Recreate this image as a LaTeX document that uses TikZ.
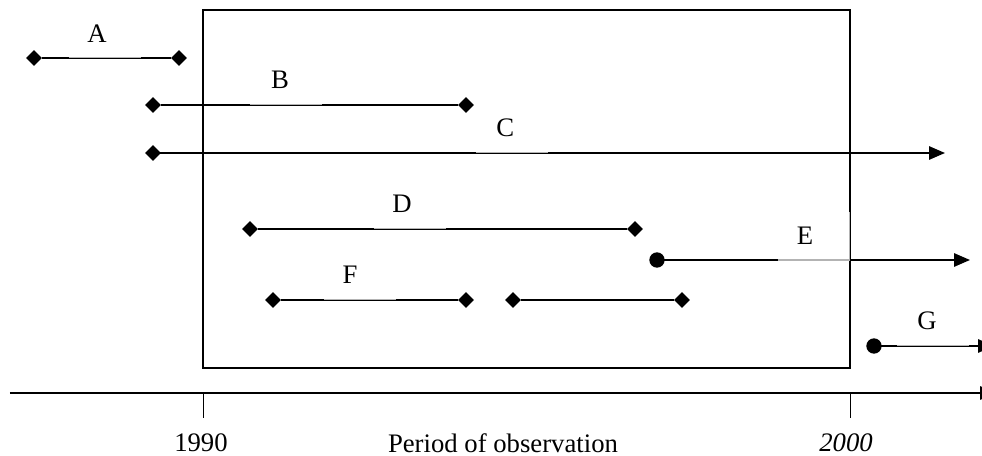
\documentclass[tikz,border=0pt]{standalone}
\usepackage{fontspec}
\setmainfont{Liberation Serif}
\usetikzlibrary{arrows.meta,shapes.geometric}

\tikzset{
  bar/.style={line width=0.85pt},
  tip/.style={-{Triangle[length=0.24cm,width=0.2cm]}},
  rhomb/.style={diamond,fill,inner sep=0pt,minimum size=0.24cm},
  blob/.style={circle,fill,inner sep=0pt,minimum size=0.23cm},
  tag/.style={fill=white,fill opacity=0.7,text opacity=1,inner sep=0pt,
    minimum width=1.09cm,minimum height=0.73cm,anchor=south}
}

\begin{document}
\begin{tikzpicture}[x=0.015cm,y=-0.015cm,
    every node/.style={font=\fontsize{11.4pt}{13.7pt}\selectfont}]
  \useasboundingbox (0,0) rectangle (982,456);
  % observation window
  \draw[bar] (203,10) rectangle (850,368);
  % spells
  \node[rhomb] (a1) at (34,58) {};
  \node[rhomb] (a2) at (179,58) {};
  \node[rhomb] (b1) at (153,105) {};
  \node[rhomb] (b2) at (466,105) {};
  \node[rhomb] (c1) at (153,153) {};
  \coordinate (c2) at (945,153);
  \node[rhomb] (d1) at (250,229) {};
  \node[rhomb] (d2) at (635,229) {};
  \node[blob] (e1) at (657,260) {};
  \coordinate (e2) at (970,260);
  \node[rhomb] (f1) at (273,300) {};
  \node[rhomb] (f2) at (466,300) {};
  \node[rhomb] (f3) at (513,300) {};
  \node[rhomb] (f4) at (682,300) {};
  \node[blob] (g1) at (874,346) {};
  \coordinate (g2) at (994,346);
  \draw[bar] (a1) -- (a2);
  \draw[bar] (b1) -- (b2);
  \draw[bar,tip] (c1.center) -- (c2);
  \draw[bar] (d1) -- (d2);
  \draw[bar,tip] (e1.center) -- (e2);
  \draw[bar] (f1) -- (f2);
  \draw[bar] (f3) -- (f4);
  \draw[bar,tip] (g1.center) -- (g2);
  % labels
  \node[tag] (labA) at (105,58) {A\rule{0.24cm}{0pt}};
  \node[tag] (labB) at (286,105) {B\rule{0.18cm}{0pt}};
  \node[tag] (labC) at (512,153) {C\rule{0.2cm}{0pt}};
  \node[tag] (labD) at (410,229) {D\rule{0.24cm}{0pt}};
  \node[tag] (labE) at (814,261) {E\rule{0.27cm}{0pt}};
  \node[tag] (labF) at (360,300) {F\rule{0.3cm}{0pt}};
  \node[tag] (labG) at (933,346) {G\rule{0.18cm}{0pt}};
  % time axis
  \coordinate (t0) at (10,393);
  \coordinate (t1) at (996,393);
  \draw[bar,tip] (t0) -- (t1);
  \draw (203,393) -- (203,418);
  \draw (850,393) -- (850,418);
  \node (y90) at (201,443) {1990};
  \node (obs) at (503,443) {Period of observation};
  \node (y00) at (846,443) {\itshape 2000};
\end{tikzpicture}
\end{document}
